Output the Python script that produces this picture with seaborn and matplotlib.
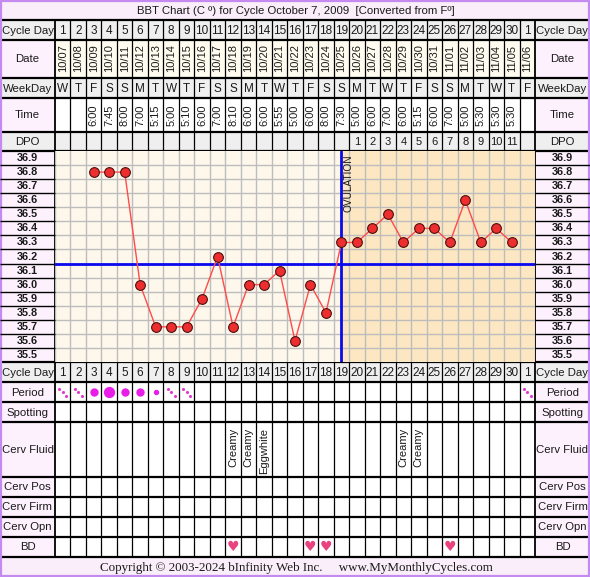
import numpy as np
import pandas as pd
import seaborn as sns
import matplotlib.pyplot as plt
from matplotlib.patches import Rectangle

sns.set_theme(style='white')
plt.rcParams['font.family'] = ['Liberation Sans', 'DejaVu Sans']

title = 'BBT Chart (C º) for Cycle October 7, 2009  [Converted from Fº]'
copyright = 'Copyright © 2003-2024 bInfinity Web Inc.     www.MyMonthlyCycles.com'

cycle_days = [str(d) for d in range(1, 31)] + ['1']
dates = ['10/%02d' % d for d in range(7, 32)] + ['11/%02d' % d for d in range(1, 7)]
weekdays = list('WTFSSMTWTFSSMTWTFSSMTWTFSSMTWTF')
times = ['', '', '6:00', '7:45', '8:00', '7:00', '5:15', '5:00', '5:10', '6:00',
         '7:00', '8:10', '6:00', '6:00', '5:55', '5:00', '6:00', '8:00', '7:30', '5:00',
         '6:00', '7:00', '6:00', '5:15', '6:00', '7:00', '5:00', '5:30', '5:30', '5:30', '']
dpo = [''] * 19 + [str(i) for i in range(1, 12)] + ['']
temp_days = list(range(3, 31))
temps = [36.8, 36.8, 36.8, 36.0, 35.7, 35.7, 35.7, 35.9, 36.2, 35.7,
         36.0, 36.0, 36.1, 35.6, 36.0, 35.8, 36.3, 36.3, 36.4, 36.5,
         36.3, 36.4, 36.4, 36.3, 36.6, 36.3, 36.4, 36.3]
temp_labels = [36.9, 36.8, 36.7, 36.6, 36.5, 36.4, 36.3, 36.2, 36.1, 36.0,
               35.9, 35.8, 35.7, 35.6, 35.5]
coverline = 36.15
ovulation_day = 19
period = ['spot', 'spot', 'med', 'heavy', 'med', 'med', 'light', 'spot', 'spot'] + [''] * 21 + ['spot']
cerv_fluid = {12: 'Creamy', 13: 'Creamy', 14: 'Eggwhite', 23: 'Creamy', 24: 'Creamy'}
bd_days = [12, 17, 18, 26]

# layout (pixels)
W, H = 590, 577
X0, X1 = 55, 535
ncol = 31
cw = (X1 - X0) / ncol
GRAY, PINK, CREAM, WHITE = '#efefef', '#fdf1fd', '#fffcef', '#ffffff'
INK = '#1a1a1a'


def cx(d):
    return X0 + (d - 0.5) * cw


fig = plt.figure(figsize=(W / 100, H / 100), dpi=100)
ax = fig.add_axes([0, 0, 1, 1])
ax.set_xlim(0, W)
ax.set_ylim(H, 0)
ax.axis('off')

# title and footer
ax.add_patch(Rectangle((0, 0), W, 20, color='#f9eef9', zorder=0))
ax.add_patch(Rectangle((0, 557), W, 20, color='#f9eef9', zorder=0))
ax.text(296, 10.5, title, ha='center', va='center', fontsize=8.2, color=INK)
ax.text(296, 567.5, copyright, ha='center', va='center', fontsize=9.4,
        family='Liberation Serif', color=INK)

rows = [('Cycle Day', 20, 40, GRAY, GRAY),
        ('Date', 40, 78, PINK, CREAM),
        ('WeekDay', 78, 98, GRAY, GRAY),
        ('Time', 98, 132, PINK, WHITE),
        ('DPO', 132, 151, GRAY, GRAY),
        ('Cycle Day', 362, 382, GRAY, GRAY),
        ('Period', 382, 402, PINK, WHITE),
        ('Spotting', 402, 422, PINK, WHITE),
        ('Cerv Fluid', 422, 477, PINK, WHITE),
        ('Cerv Pos', 477, 497, PINK, WHITE),
        ('Cerv Firm', 497, 517, PINK, WHITE),
        ('Cerv Opn', 517, 537, PINK, WHITE),
        ('BD', 537, 557, PINK, WHITE)]

for label, y0, y1, lbg, cbg in rows:
    ax.add_patch(Rectangle((0, y0), X0, y1 - y0, color=lbg, zorder=0))
    ax.add_patch(Rectangle((X1, y0), W - X1, y1 - y0, color=lbg, zorder=0))
    ax.add_patch(Rectangle((X0, y0), X1 - X0, y1 - y0, color=cbg, zorder=0))
    ym = (y0 + y1) / 2
    ax.text(X0 / 2, ym + 0.5, label, ha='center', va='center', fontsize=8.2, color=INK)
    ax.text((X1 + W) / 2, ym + 0.5, label, ha='center', va='center', fontsize=8.2, color=INK)

ax.add_patch(Rectangle((0, 151), X0, 211, color=PINK, zorder=0))
ax.add_patch(Rectangle((X1, 151), W - X1, 211, color=PINK, zorder=0))

for i in range(ncol):
    d = i + 1
    x = cx(d)
    for y in (30.5, 372.5):
        ax.text(x, y, cycle_days[i], ha='center', va='center', fontsize=8.5, color=INK)
    ax.text(x, 58, dates[i], ha='center', va='center', rotation=90, fontsize=8, color=INK)
    ax.text(x, 88.5, weekdays[i], ha='center', va='center', fontsize=8.5, color=INK)
    if times[i]:
        ax.text(x, 115, times[i], ha='center', va='center', rotation=90, fontsize=8, color=INK)
    if dpo[i]:
        ax.text(x, 142, dpo[i], ha='center', va='center', fontsize=8, color=INK)
    # period
    p = period[i]
    if p == 'spot':
        offs = np.array([-3.5, 0, 3.5])
        ax.scatter(x + offs, 392 + offs, s=5, color='#e23ad0', zorder=3, linewidths=0)
    elif p:
        size = {'heavy': 66, 'med': 36, 'light': 15}[p]
        ax.scatter([x], [392], s=size, color='#e81ee8', zorder=3, linewidths=0)
    if d in cerv_fluid:
        ax.text(x, 428, cerv_fluid[d], ha='center', va='top', rotation=90,
                fontsize=8, color=INK)
    if d in bd_days:
        ax.text(x, 547, '\u2665', ha='center', va='center', fontsize=10,
                family='DejaVu Sans', color='#e8437f')

# grid lines of the table
xs = X0 + np.arange(ncol + 1) * cw
ax.vlines(xs[1:-1], 20, 151, color='black', lw=0.9, zorder=2)
ax.vlines(xs[1:-1], 362, 557, color='black', lw=0.9, zorder=2)
ax.vlines([X0, X1], 20, 557, color='black', lw=1.3, zorder=4)
ax.hlines([20, 40, 78, 98, 132, 151, 362, 382, 402, 422, 477, 497, 517, 537, 557],
          0, W, color='black', lw=1.6, zorder=4)
ax.add_patch(Rectangle((1, 1), W - 2, H - 2, fill=False, edgecolor='#c58af0', lw=1.6, zorder=5))

# temperature chart
tax = fig.add_axes([X0 / W, (H - 362) / H, (X1 - X0) / W, 211 / H])
tax.set_xlim(0.5, 31.5)
tax.set_ylim(35.45, 36.95)
tax.set_facecolor('#fdf8eb')
tax.set_axisbelow(True)
tax.set_xticks(np.arange(0.5, 32, 1))
tax.set_yticks(np.round(np.arange(35.55, 36.9, 0.1), 2))
tax.grid(True, color='#bdbdbd', lw=1)
tax.tick_params(length=0, labelbottom=False, labelleft=False)
for s in tax.spines.values():
    s.set_visible(False)
tax.axvspan(ovulation_day, 31.5, color='#fde7c3', zorder=0.2, lw=0)

df = pd.DataFrame({'day': temp_days, 'temp': temps})
sns.lineplot(data=df, x='day', y='temp', ax=tax, color='#ff4b4b', lw=1,
             marker='o', markersize=7, markerfacecolor='#ee2e2e',
             markeredgecolor='#4a1010', markeredgewidth=0.8, zorder=5)
tax.axhline(coverline, color='#0a0aee', lw=2, zorder=4)
tax.axvline(ovulation_day, color='#0a0aee', lw=2, zorder=4)
tax.text(ovulation_day + 0.45, 36.925, 'OVULATION', rotation=90, ha='center', va='top',
         fontsize=7.3, color=INK)
tax.set_xlabel('')
tax.set_ylabel('')

yt = tax.get_yaxis_transform()
for t in temp_labels:
    tax.text(-27.5 / 480, t, '%.1f' % t, transform=yt, ha='center', va='center',
             fontsize=7.8, fontweight='bold', color=INK, clip_on=False)
    tax.text(1 + 27.5 / 480, t, '%.1f' % t, transform=yt, ha='center', va='center',
             fontsize=7.8, fontweight='bold', color=INK, clip_on=False)
edges = np.round(np.arange(35.55, 36.9, 0.1), 2)
tax.hlines(edges, -X0 / 480, 0, transform=yt, color='black', lw=1, clip_on=False)
tax.hlines(edges, 1, 1 + (W - X1) / 480, transform=yt, color='black', lw=1, clip_on=False)

fig.savefig('out.png', dpi=100)
